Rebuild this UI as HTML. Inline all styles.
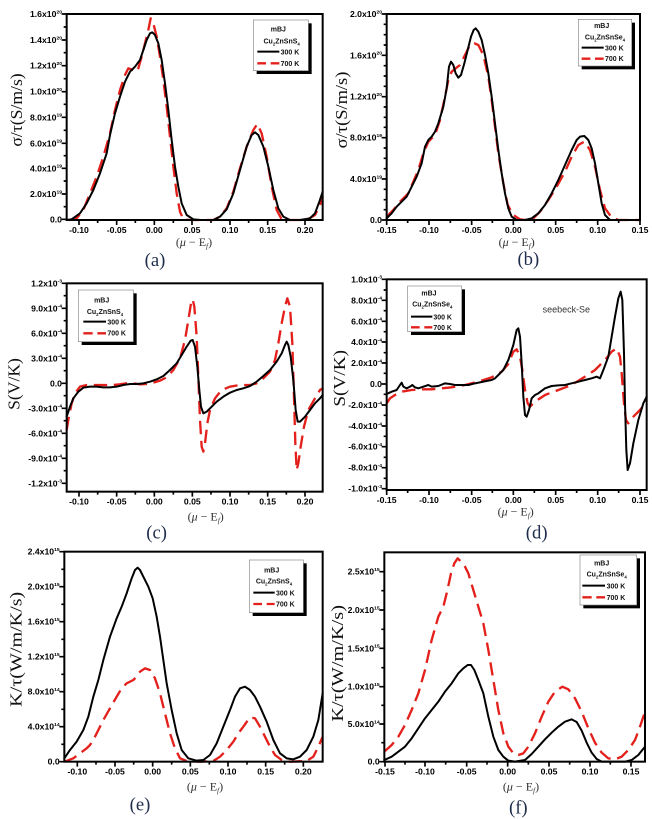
<!DOCTYPE html>
<html><head><meta charset="utf-8"><style>
html,body{margin:0;padding:0;background:#fff;}
svg{display:block;}
.tk{font-family:"Liberation Sans",Arial,sans-serif;font-weight:bold;font-size:26px;fill:#000;}
.lg{font-family:"Liberation Sans",Arial,sans-serif;font-weight:bold;font-size:21px;fill:#111;}
.yl{font-family:"Liberation Serif",serif;font-size:52px;fill:#111;}
.xl{font-family:"Liberation Serif",serif;font-size:36px;fill:#333;}
.pl{font-family:"Liberation Serif",serif;font-size:56px;fill:#1f2d4c;}
.bk{fill:none;stroke:#000;stroke-width:6;stroke-linejoin:round;stroke-linecap:round;}
.rd{fill:none;stroke:#e3201b;stroke-width:7;stroke-dasharray:40 20;stroke-linejoin:round;}
.fr{fill:none;stroke:#000;stroke-width:6;}
.ti{fill:none;stroke:#000;stroke-width:5;}
</style></head><body>
<svg width="652" height="819" viewBox="0 0 652 819" xmlns="http://www.w3.org/2000/svg">
<rect width="652" height="819" fill="#fff"/>

<!-- ===== (a) ===== -->
<g transform="translate(0,0) scale(0.333333)">
<polyline class="rd" points="205,660 230,655 250,630 270,580 290,530 310,470 330,400 345,330 360,270 375,225 385,205 400,210 410,215 415,205 425,170 435,130 445,90 452,55 460,70 470,110 480,170 490,240 500,320 510,410 520,500 530,580 540,635 550,658 570,660 640,660 660,650 680,625 700,575 720,505 740,440 760,390 772,372 785,400 800,470 815,560 830,630 845,658 870,660 920,660 945,645 960,615 968,590"/>
<polyline class="bk" points="200,660 215,658 240,640 260,610 280,570 300,520 320,460 330,405 345,340 360,290 375,245 390,215 405,200 420,180 430,150 440,120 450,100 457,97 465,105 475,130 485,180 495,250 505,330 515,420 525,500 535,560 545,610 560,645 580,658 600,660 640,660 660,650 680,628 700,580 720,510 740,440 755,405 765,397 775,405 790,440 805,500 820,570 835,625 850,650 870,660 900,660 930,655 945,640 958,605 968,575"/>
<rect class="fr" x="200" y="42" width="768" height="618"/>
<path class="ti" d="M185 42H200M185 120H200M185 197H200M185 275H200M185 352H200M185 430H200M185 505H200M185 582H200M185 658H200M191 81H200M191 158H200M191 236H200M191 313H200M191 391H200M191 467H200M191 543H200M191 620H200M237 660V675M350 660V675M463 660V675M576 660V675M690 660V675M803 660V675M915 660V675M293 660V669M406 660V669M520 660V669M633 660V669M746 660V669M859 660V669"/>
<g class="tk" text-anchor="end">
<text x="186" y="51">1.6x10<tspan dy="-11" font-size="15">20</tspan></text>
<text x="186" y="129">1.4x10<tspan dy="-11" font-size="15">20</tspan></text>
<text x="186" y="206">1.2x10<tspan dy="-11" font-size="15">20</tspan></text>
<text x="186" y="284">1.0x10<tspan dy="-11" font-size="15">20</tspan></text>
<text x="186" y="361">8.0x10<tspan dy="-11" font-size="15">19</tspan></text>
<text x="186" y="439">6.0x10<tspan dy="-11" font-size="15">19</tspan></text>
<text x="186" y="514">4.0x10<tspan dy="-11" font-size="15">19</tspan></text>
<text x="186" y="591">2.0x10<tspan dy="-11" font-size="15">19</tspan></text>
<text x="186" y="667">0.0</text>
</g>
<g class="tk" text-anchor="middle">
<text x="237" y="699">-0.10</text><text x="350" y="699">-0.05</text><text x="463" y="699">0.00</text><text x="576" y="699">0.05</text><text x="690" y="699">0.10</text><text x="803" y="699">0.15</text><text x="915" y="699">0.20</text>
</g>
<rect x="770" y="70" width="165" height="152" fill="#000"/>
<rect x="760" y="60" width="165" height="152" fill="#fff" stroke="#888" stroke-width="2"/>
<g class="lg">
<text x="835" y="95" text-anchor="middle">mBJ</text>
<text x="845" y="130" text-anchor="middle">Cu<tspan font-size="13" dy="6">2</tspan><tspan dy="-6">ZnSnS</tspan><tspan font-size="13" dy="6">4</tspan></text>
<text x="842" y="163">300 K</text>
<text x="842" y="198">700 K</text>
</g>
<path d="M772 155H838" stroke="#000" stroke-width="6"/>
<path d="M772 190H798M812 190H838" stroke="#e3201b" stroke-width="7"/>
<text class="yl" transform="translate(66,330) rotate(-90)" text-anchor="middle" textLength="220" lengthAdjust="spacingAndGlyphs">σ/τ(S/m/s)</text>
<text class="xl" x="582" y="738" text-anchor="middle">(<tspan font-style="italic">μ</tspan> − E<tspan font-size="22" dy="7" font-style="italic">f</tspan><tspan dy="-7">)</tspan></text>
<text class="pl" x="465" y="798" text-anchor="middle">(a)</text>
</g>

<!-- ===== (b) ===== -->
<g transform="translate(325,0) scale(0.333333)">
<polyline class="rd" points="185,650 205,630 225,605 250,580 265,545 280,510 295,460 310,425 330,405 345,360 360,290 370,240 380,215 392,205 405,195 420,165 435,135 448,130 460,135 475,165 490,230 500,300 510,380 520,460 535,550 548,615 565,645 585,658 600,660 625,655 645,635 670,600 695,560 720,515 740,470 760,435 778,425 795,450 810,500 825,570 840,625 860,652 880,660 945,660"/>
<polyline class="bk" points="185,655 200,640 215,620 230,605 245,590 260,560 275,530 290,490 300,440 310,420 320,410 330,395 340,370 355,320 365,265 372,200 378,185 385,195 392,220 400,233 408,225 418,190 428,150 438,110 446,90 452,85 460,95 470,120 480,165 490,220 500,290 510,370 520,450 530,520 540,580 550,625 560,650 575,660 600,660 620,655 640,640 660,615 680,580 700,540 720,495 740,450 755,420 765,410 778,408 790,420 800,445 810,490 820,550 830,610 840,645 855,660 945,660"/>
<rect class="fr" x="185" y="42" width="760" height="618"/>
<path class="ti" d="M170 42H185M170 166H185M170 290H185M170 413H185M170 537H185M170 660H185M176 73H185M176 104H185M176 135H185M176 197H185M176 228H185M176 259H185M176 321H185M176 352H185M176 382H185M176 444H185M176 475H185M176 506H185M176 568H185M176 599H185M176 629H185M185 660V675M312 660V675M440 660V675M565 660V675M692 660V675M818 660V675M945 660V675M248 660V669M376 660V669M502 660V669M628 660V669M755 660V669M881 660V669"/>
<g class="tk" text-anchor="end">
<text x="171" y="51">2.0x10<tspan dy="-11" font-size="15">20</tspan></text>
<text x="171" y="175">1.6x10<tspan dy="-11" font-size="15">20</tspan></text>
<text x="171" y="299">1.2x10<tspan dy="-11" font-size="15">20</tspan></text>
<text x="171" y="422">8.0x10<tspan dy="-11" font-size="15">19</tspan></text>
<text x="171" y="546">4.0x10<tspan dy="-11" font-size="15">19</tspan></text>
<text x="171" y="669">0.0</text>
</g>
<g class="tk" text-anchor="middle">
<text x="185" y="699">-0.15</text><text x="312" y="699">-0.10</text><text x="440" y="699">-0.05</text><text x="565" y="699">0.00</text><text x="692" y="699">0.05</text><text x="818" y="699">0.10</text><text x="945" y="699">0.15</text>
</g>
<rect x="770" y="68" width="160" height="140" fill="#000"/>
<rect x="760" y="58" width="160" height="140" fill="#fff" stroke="#888" stroke-width="2"/>
<g class="lg">
<text x="830" y="84" text-anchor="middle">mBJ</text>
<text x="840" y="118" text-anchor="middle">Cu<tspan font-size="13" dy="6">2</tspan><tspan dy="-6">ZnSnSe</tspan><tspan font-size="13" dy="6">4</tspan></text>
<text x="840" y="151">300 K</text>
<text x="840" y="183">700 K</text>
</g>
<path d="M770 143H836" stroke="#000" stroke-width="6"/>
<path d="M770 176H796M810 176H836" stroke="#e3201b" stroke-width="7"/>
<text class="yl" transform="translate(66,330) rotate(-90)" text-anchor="middle" textLength="230" lengthAdjust="spacingAndGlyphs">σ/τ(S/m/s)</text>
<text class="xl" x="575" y="738" text-anchor="middle">(<tspan font-style="italic">μ</tspan> − E<tspan font-size="22" dy="7" font-style="italic">f</tspan><tspan dy="-7">)</tspan></text>
<text class="pl" x="610" y="795" text-anchor="middle">(b)</text>
</g>

<!-- ===== (c) ===== -->
<g transform="translate(0,270) scale(0.333333)">
<polyline class="rd" points="200,480 205,450 215,400 225,370 240,350 260,345 280,345 300,345 320,345 340,345 360,343 380,340 400,340 420,343 440,342 460,338 480,332 500,322 520,300 540,265 555,210 565,150 573,100 578,88 583,110 590,200 595,320 600,450 605,530 610,545 615,520 622,460 630,420 645,385 665,360 690,350 720,345 750,345 770,340 790,325 810,305 825,270 835,220 845,160 855,110 862,85 870,110 877,220 882,380 886,520 890,600 895,580 902,530 912,470 925,420 945,385 960,360 968,355"/>
<polyline class="bk" points="200,440 210,410 220,385 235,365 250,353 270,350 290,350 310,352 330,352 350,350 370,345 390,342 410,342 430,340 450,335 470,328 490,318 510,300 530,280 545,255 560,230 572,212 578,210 585,230 592,290 598,360 603,410 610,430 620,425 635,410 650,395 670,380 690,368 710,360 730,355 750,348 770,335 790,318 810,300 830,275 845,250 855,225 860,215 865,225 872,260 880,330 887,420 893,455 900,455 915,440 930,420 945,400 960,385 968,375"/>
<rect class="fr" x="200" y="40" width="768" height="625"/>
<path class="ti" d="M185 40H200M185 115H200M185 190H200M185 265H200M185 340H200M185 415H200M185 490H200M185 565H200M185 640H200M191 77H200M191 152H200M191 227H200M191 302H200M191 377H200M191 452H200M191 527H200M191 602H200M237 665V680M350 665V680M463 665V680M577 665V680M690 665V680M803 665V680M915 665V680M293 665V674M406 665V674M520 665V674M633 665V674M746 665V674M859 665V674"/>
<g class="tk" text-anchor="end">
<text x="186" y="49">1.2x10<tspan dy="-11" font-size="15">-3</tspan></text>
<text x="186" y="124">9.0x10<tspan dy="-11" font-size="15">-4</tspan></text>
<text x="186" y="199">6.0x10<tspan dy="-11" font-size="15">-4</tspan></text>
<text x="186" y="274">3.0x10<tspan dy="-11" font-size="15">-4</tspan></text>
<text x="186" y="349">0.0</text>
<text x="186" y="424">-3.0x10<tspan dy="-11" font-size="15">-4</tspan></text>
<text x="186" y="499">-6.0x10<tspan dy="-11" font-size="15">-4</tspan></text>
<text x="186" y="574">-9.0x10<tspan dy="-11" font-size="15">-4</tspan></text>
<text x="186" y="649">-1.2x10<tspan dy="-11" font-size="15">-3</tspan></text>
</g>
<g class="tk" text-anchor="middle">
<text x="237" y="704">-0.10</text><text x="350" y="704">-0.05</text><text x="463" y="704">0.00</text><text x="577" y="704">0.05</text><text x="690" y="704">0.10</text><text x="803" y="704">0.15</text><text x="915" y="704">0.20</text>
</g>
<rect x="245" y="70" width="165" height="155" fill="#000"/>
<rect x="235" y="60" width="165" height="155" fill="#fff" stroke="#888" stroke-width="2"/>
<g class="lg">
<text x="305" y="97" text-anchor="middle">mBJ</text>
<text x="315" y="132" text-anchor="middle">Cu<tspan font-size="13" dy="6">2</tspan><tspan dy="-6">ZnSnS</tspan><tspan font-size="13" dy="6">4</tspan></text>
<text x="322" y="163">300 K</text>
<text x="322" y="197">700 K</text>
</g>
<path d="M250 155H318" stroke="#000" stroke-width="6"/>
<path d="M250 190H278M292 190H318" stroke="#e3201b" stroke-width="7"/>
<text class="yl" transform="translate(58,342) rotate(-90)" text-anchor="middle" textLength="155" lengthAdjust="spacingAndGlyphs">S(V/K)</text>
<text class="xl" x="617" y="752" text-anchor="middle">(<tspan font-style="italic">μ</tspan> − E<tspan font-size="22" dy="7" font-style="italic">f</tspan><tspan dy="-7">)</tspan></text>
<text class="pl" x="470" y="806" text-anchor="middle">(c)</text>
</g>

<!-- ===== (d) ===== -->
<g transform="translate(325,270) scale(0.333333)">
<polyline class="rd" points="185,400 195,385 210,375 230,365 260,360 290,358 320,358 350,355 380,352 420,345 460,335 500,322 530,305 550,282 565,245 575,238 585,260 592,300 600,360 608,400 615,410 630,395 660,375 700,360 740,345 780,320 810,300 840,270 860,245 875,235 885,260 890,310 897,400 903,450 910,460 925,440 945,420 965,395"/>
<polyline class="bk" points="185,372 200,365 215,360 225,345 230,338 235,350 245,355 255,350 262,345 270,352 280,355 295,350 310,345 320,350 340,348 360,340 375,342 390,345 410,345 430,345 450,340 470,336 490,332 500,330 510,325 520,315 535,300 550,270 565,225 575,180 580,175 585,200 590,280 595,380 600,435 605,440 612,420 620,385 630,375 640,370 660,355 680,348 700,346 720,345 740,340 760,335 780,330 800,325 815,320 825,325 835,300 850,260 860,200 870,140 880,85 887,65 892,90 897,250 900,400 904,540 908,600 915,580 925,520 940,450 955,400 965,380"/>
<rect class="fr" x="185" y="28" width="780" height="632"/>
<path class="ti" d="M170 28H185M170 91H185M170 154H185M170 216H185M170 279H185M170 342H185M170 405H185M170 468H185M170 530H185M170 593H185M170 656H185M176 60H185M176 122H185M176 185H185M176 248H185M176 310H185M176 373H185M176 436H185M176 499H185M176 562H185M176 625H185M185 660V675M312 660V675M440 660V675M565 660V675M692 660V675M818 660V675M945 660V675M248 660V669M376 660V669M502 660V669M628 660V669M755 660V669M881 660V669"/>
<g class="tk" text-anchor="end">
<text x="171" y="37">1.0x10<tspan dy="-11" font-size="15">-3</tspan></text>
<text x="171" y="100">8.0x10<tspan dy="-11" font-size="15">-4</tspan></text>
<text x="171" y="163">6.0x10<tspan dy="-11" font-size="15">-4</tspan></text>
<text x="171" y="225">4.0x10<tspan dy="-11" font-size="15">-4</tspan></text>
<text x="171" y="288">2.0x10<tspan dy="-11" font-size="15">-4</tspan></text>
<text x="171" y="351">0.0</text>
<text x="171" y="414">-2.0x10<tspan dy="-11" font-size="15">-4</tspan></text>
<text x="171" y="477">-4.0x10<tspan dy="-11" font-size="15">-4</tspan></text>
<text x="171" y="539">-6.0x10<tspan dy="-11" font-size="15">-4</tspan></text>
<text x="171" y="602">-8.0x10<tspan dy="-11" font-size="15">-4</tspan></text>
<text x="171" y="665">-1.0x10<tspan dy="-11" font-size="15">-3</tspan></text>
</g>
<g class="tk" text-anchor="middle">
<text x="185" y="699">-0.15</text><text x="312" y="699">-0.10</text><text x="440" y="699">-0.05</text><text x="565" y="699">0.00</text><text x="692" y="699">0.05</text><text x="818" y="699">0.10</text><text x="945" y="699">0.15</text>
</g>
<text x="724" y="128" text-anchor="middle" font-family="Liberation Sans, Arial, sans-serif" font-size="27" fill="#333">seebeck-Se</text>
<rect x="258" y="58" width="162" height="137" fill="#000"/>
<rect x="248" y="48" width="162" height="137" fill="#fff" stroke="#888" stroke-width="2"/>
<g class="lg">
<text x="312" y="77" text-anchor="middle">mBJ</text>
<text x="322" y="110" text-anchor="middle">Cu<tspan font-size="13" dy="6">2</tspan><tspan dy="-6">ZnSnSe</tspan><tspan font-size="13" dy="6">4</tspan></text>
<text x="325" y="148">300 K</text>
<text x="325" y="180">700 K</text>
</g>
<path d="M258 140H322" stroke="#000" stroke-width="6"/>
<path d="M258 172H284M298 172H322" stroke="#e3201b" stroke-width="7"/>
<text class="yl" transform="translate(60,325) rotate(-90)" text-anchor="middle" textLength="170" lengthAdjust="spacingAndGlyphs">S(V/K)</text>
<text class="xl" x="572" y="737" text-anchor="middle">(<tspan font-style="italic">μ</tspan> − E<tspan font-size="22" dy="7" font-style="italic">f</tspan><tspan dy="-7">)</tspan></text>
<text class="pl" x="635" y="806" text-anchor="middle">(d)</text>
</g>

<!-- ===== (e) ===== -->
<g transform="translate(0,540) scale(0.333333)">
<polyline class="rd" points="193,665 220,655 240,640 260,625 270,615 280,600 295,570 310,540 330,505 350,470 365,445 380,430 400,420 410,410 420,395 435,385 450,390 465,415 480,460 495,520 510,580 525,625 540,655 560,663 600,665 640,663 660,650 680,630 700,605 715,580 730,560 750,532 765,535 780,560 795,590 810,620 825,645 845,660 870,665 920,663 940,650 955,620 968,590"/>
<polyline class="bk" points="193,655 210,630 230,605 250,570 265,530 280,470 295,420 310,360 330,290 350,235 365,200 380,160 395,115 405,90 413,83 420,90 430,110 445,140 458,175 470,230 480,290 490,360 500,430 515,510 530,580 545,630 565,655 590,662 610,660 630,645 650,610 670,560 690,510 705,470 720,445 735,440 750,450 765,470 780,500 800,545 820,600 840,640 860,655 880,658 900,650 920,630 940,590 955,540 968,460"/>
<rect class="fr" x="193" y="35" width="775" height="630"/>
<path class="ti" d="M178 35H193M178 140H193M178 245H193M178 350H193M178 455H193M178 560H193M178 665H193M184 88H193M184 193H193M184 298H193M184 403H193M184 508H193M184 613H193M232 665V680M345 665V680M458 665V680M571 665V680M684 665V680M797 665V680M910 665V680M288 665V674M401 665V674M515 665V674M628 665V674M741 665V674M854 665V674"/>
<g class="tk" text-anchor="end">
<text x="179" y="44">2.4x10<tspan dy="-11" font-size="15">15</tspan></text>
<text x="179" y="149">2.0x10<tspan dy="-11" font-size="15">15</tspan></text>
<text x="179" y="254">1.6x10<tspan dy="-11" font-size="15">15</tspan></text>
<text x="179" y="359">1.2x10<tspan dy="-11" font-size="15">15</tspan></text>
<text x="179" y="464">8.0x10<tspan dy="-11" font-size="15">14</tspan></text>
<text x="179" y="569">4.0x10<tspan dy="-11" font-size="15">14</tspan></text>
<text x="179" y="674">0.0</text>
</g>
<g class="tk" text-anchor="middle">
<text x="232" y="704">-0.10</text><text x="345" y="704">-0.05</text><text x="458" y="704">0.00</text><text x="571" y="704">0.05</text><text x="684" y="704">0.10</text><text x="797" y="704">0.15</text><text x="910" y="704">0.20</text>
</g>
<rect x="758" y="70" width="162" height="158" fill="#000"/>
<rect x="748" y="60" width="162" height="158" fill="#fff" stroke="#888" stroke-width="2"/>
<g class="lg">
<text x="815" y="97" text-anchor="middle">mBJ</text>
<text x="822" y="130" text-anchor="middle">Cu<tspan font-size="13" dy="6">2</tspan><tspan dy="-6">ZnSnS</tspan><tspan font-size="13" dy="6">4</tspan></text>
<text x="828" y="166">300 K</text>
<text x="828" y="200">700 K</text>
</g>
<path d="M760 158H824" stroke="#000" stroke-width="6"/>
<path d="M760 192H786M800 192H824" stroke="#e3201b" stroke-width="7"/>
<text class="yl" transform="translate(64,328) rotate(-90)" text-anchor="middle" textLength="345" lengthAdjust="spacingAndGlyphs">K/τ(W/m/K/s)</text>
<text class="xl" x="615" y="752" text-anchor="middle">(<tspan font-style="italic">μ</tspan> − E<tspan font-size="22" dy="7" font-style="italic">f</tspan><tspan dy="-7">)</tspan></text>
<text class="pl" x="420" y="812" text-anchor="middle">(e)</text>
</g>

<!-- ===== (f) ===== -->
<g transform="translate(325,540) scale(0.333333)">
<polyline class="rd" points="178,635 200,615 220,590 240,555 260,510 280,460 300,390 320,300 340,230 355,200 365,160 378,100 388,70 398,55 408,65 420,80 430,100 445,150 460,200 475,250 490,330 505,420 520,510 535,580 550,620 565,640 580,645 595,640 610,620 630,580 650,530 670,485 690,455 712,440 730,448 750,475 770,515 790,565 810,608 830,638 850,655 870,658 890,650 910,630 930,600 945,560 960,515"/>
<polyline class="bk" points="178,660 200,650 220,635 240,620 260,595 280,565 300,535 320,510 340,485 360,455 380,430 400,400 415,385 428,375 438,375 448,390 460,420 475,460 490,530 505,590 520,630 535,650 550,662 570,665 600,660 620,642 640,620 660,598 680,578 700,560 720,545 740,538 755,546 770,572 785,608 800,638 815,657 830,665 900,665 920,660 940,645 960,620"/>
<rect class="fr" x="178" y="37" width="782" height="628"/>
<path class="ti" d="M163 95H178M163 210H178M163 325H178M163 440H178M163 552H178M163 665H178M169 152H178M169 268H178M169 383H178M169 496H178M169 608H178M180 665V680M300 665V680M425 665V680M548 665V680M672 665V680M795 665V680M918 665V680M240 665V674M362 665V674M486 665V674M610 665V674M734 665V674M856 665V674"/>
<g class="tk" text-anchor="end">
<text x="164" y="104">2.5x10<tspan dy="-11" font-size="15">15</tspan></text>
<text x="164" y="219">2.0x10<tspan dy="-11" font-size="15">15</tspan></text>
<text x="164" y="334">1.5x10<tspan dy="-11" font-size="15">15</tspan></text>
<text x="164" y="449">1.0x10<tspan dy="-11" font-size="15">15</tspan></text>
<text x="164" y="561">5.0x10<tspan dy="-11" font-size="15">14</tspan></text>
<text x="164" y="674">0.0</text>
</g>
<g class="tk" text-anchor="middle">
<text x="180" y="704">-0.15</text><text x="300" y="704">-0.10</text><text x="425" y="704">-0.05</text><text x="548" y="704">0.00</text><text x="672" y="704">0.05</text><text x="795" y="704">0.10</text><text x="918" y="704">0.15</text>
</g>
<rect x="775" y="55" width="170" height="150" fill="#000"/>
<rect x="765" y="45" width="170" height="150" fill="#fff" stroke="#888" stroke-width="2"/>
<g class="lg">
<text x="830" y="77" text-anchor="middle">mBJ</text>
<text x="845" y="109" text-anchor="middle">Cu<tspan font-size="13" dy="6">2</tspan><tspan dy="-6">ZnSnSe</tspan><tspan font-size="13" dy="6">4</tspan></text>
<text x="845" y="145">300 K</text>
<text x="845" y="180">700 K</text>
</g>
<path d="M772 137H840" stroke="#000" stroke-width="6"/>
<path d="M772 172H800M814 172H840" stroke="#e3201b" stroke-width="7"/>
<text class="yl" transform="translate(54,370) rotate(-90)" text-anchor="middle" textLength="350" lengthAdjust="spacingAndGlyphs">K/τ(W/m/K/s)</text>
<text class="xl" x="588" y="752" text-anchor="middle">(<tspan font-style="italic">μ</tspan> − E<tspan font-size="22" dy="7" font-style="italic">f</tspan><tspan dy="-7">)</tspan></text>
<text class="pl" x="580" y="820" text-anchor="middle">(f)</text>
</g>
</svg>
</body></html>
